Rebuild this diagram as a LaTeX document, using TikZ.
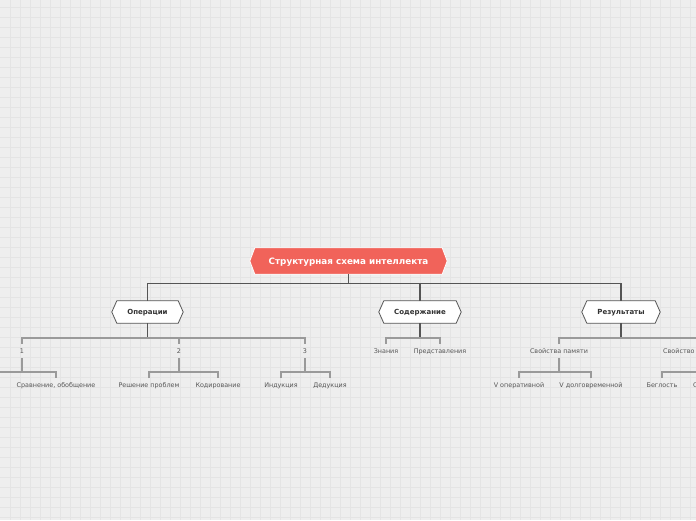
\documentclass[tikz,border=0pt]{standalone}
\usepackage{fontspec}
\setmainfont{DejaVu Sans}
\usetikzlibrary{calc,backgrounds}
\definecolor{bg}{HTML}{EEEEEE}
\definecolor{gridc}{HTML}{E4E4E4}
\definecolor{rootc}{HTML}{F1635A}
\definecolor{darkl}{HTML}{555555}
\definecolor{midl}{HTML}{9A9A9A}
\definecolor{txt}{HTML}{555555}
\definecolor{hextxt}{HTML}{333333}
\begin{document}
\begin{tikzpicture}[x=1pt,y=-1pt,
  lab/.style={font=\fontsize{6.4}{7}\selectfont, text=txt, inner sep=0pt, text height=4.7pt, text depth=0pt},
  hexlab/.style={inner sep=0pt, minimum height=22, font=\bfseries\fontsize{7}{8}\selectfont, text=hextxt, text height=5.2pt, text depth=0pt},
  rootlab/.style={inner sep=0pt, minimum width=187, minimum height=26, font=\bfseries\fontsize{8.8}{10}\selectfont, text=white, text height=6.5pt, text depth=0pt},
  hexwhite/.style={fill=white, draw=darkl, line width=0.8pt, line join=miter},
  hexroot/.style={fill=rootc, draw=white, line width=0.8pt},
  darkline/.style={draw=darkl, line width=1.2pt},
  midline/.style={draw=midl, line width=1.1pt},
]
\useasboundingbox (0,0) rectangle (696,520);
\clip (0,0) rectangle (696,520);
\begin{scope}[on background layer]
  \fill[bg] (0,0) rectangle (696,520);
  \foreach \x in {10,20,...,690} \draw[gridc, line width=0.6pt] (\x,0) -- (\x,520);
  \foreach \y in {7,17,...,517} \draw[gridc, line width=0.6pt] (0,\y) -- (696,\y);
\end{scope}

% main nodes
\node[rootlab] (root) at (348.5,261) {Структурная схема интеллекта};
\node[hexlab, minimum width=61] (op) at (147.5,312) {Операции};
\node[hexlab, minimum width=72] (con) at (420,312) {Содержание};
\node[hexlab, minimum width=68] (res) at (621,312) {Результаты};

\begin{scope}[on background layer]
  \path[hexroot] (root.north west) -- (root.north east) -- ($(root.east)+(5,0)$) -- (root.south east) -- (root.south west) -- ($(root.west)+(-5,0)$) -- cycle;
  \path[hexwhite] (op.north west) -- (op.north east) -- ($(op.east)+(5,0)$) -- (op.south east) -- (op.south west) -- ($(op.west)+(-5,0)$) -- cycle;
  \path[hexwhite] (con.north west) -- (con.north east) -- ($(con.east)+(5,0)$) -- (con.south east) -- (con.south west) -- ($(con.west)+(-5,0)$) -- cycle;
  \path[hexwhite] (res.north west) -- (res.north east) -- ($(res.east)+(5,0)$) -- (res.south east) -- (res.south west) -- ($(res.west)+(-5,0)$) -- cycle;
\end{scope}

% level 2 labels
\node[lab] (n1) at (22,351) {1};
\node[lab] (n2) at (179,351) {2};
\node[lab] (n3) at (305,351) {3};
\node[lab] (kn) at (386,351) {Знания};
\node[lab] (pr) at (440,351) {Представления};
\node[lab] (sp) at (559,351) {Свойства памяти};
\node[lab, anchor=west] (sv) at (663,351) {Свойство};
\coordinate (svt) at (710,351);

% level 3 labels
\coordinate (l1a) at (-12,385);
\node[lab] (l1b) at (56,385) {Сравнение, обобщение};
\node[lab] (l2a) at (149,385) {Решение проблем};
\node[lab] (l2b) at (218,385) {Кодирование};
\node[lab] (l3a) at (281,385) {Индукция};
\node[lab] (l3b) at (330,385) {Дедукция};
\node[lab] (m1) at (519,385) {V оперативной};
\node[lab] (m2) at (591,385) {V долговременной};
\node[lab] (b1) at (662,385) {Беглость};
\node[lab, anchor=west] (b2) at (693,385) {С};
\coordinate (b2t) at (712,385);

% root connectors
\draw[darkline] (root.south) -- ++(0,9) coordinate (rj);
\draw[darkline] (op.north) |- (rj) -| (res.north);
\draw[darkline] (con.north) -- (con.north |- rj);

% Операции
\draw[darkline] (op.south) -- ++(0,15);
\draw[midline] ($(n1.center)+(0,-7)$) |- ($(n3.center)+(0,-13)$) -- ($(n3.center)+(0,-7)$);
\draw[midline] ($(n2.center)+(0,-13)$) -- ($(n2.center)+(0,-7)$);
% Содержание
\draw[darkline] (con.south) -- ++(0,15);
\draw[midline] ($(kn.center)+(0,-7)$) |- ($(pr.center)+(0,-13)$) -- ($(pr.center)+(0,-7)$);
% Результаты
\draw[darkline] (res.south) -- ++(0,15);
\draw[midline] ($(sp.center)+(0,-7)$) |- ($(svt)+(0,-13)$);

% level 3 brackets
\foreach \p/\a/\b in {n1/l1a/l1b, n2/l2a/l2b, n3/l3a/l3b, sp/m1/m2} {
  \draw[midline] ($(\p.center)+(0,7)$) -- ($(\p.center)+(0,21)$);
  \draw[midline] ($(\a)+(0,-7)$) |- ($(\b.center)+(0,-13)$) -- ($(\b.center)+(0,-7)$);
}
\draw[midline] ($(b1.center)+(0,-7)$) |- ($(b2t)+(0,-13)$);
\end{tikzpicture}
\end{document}
